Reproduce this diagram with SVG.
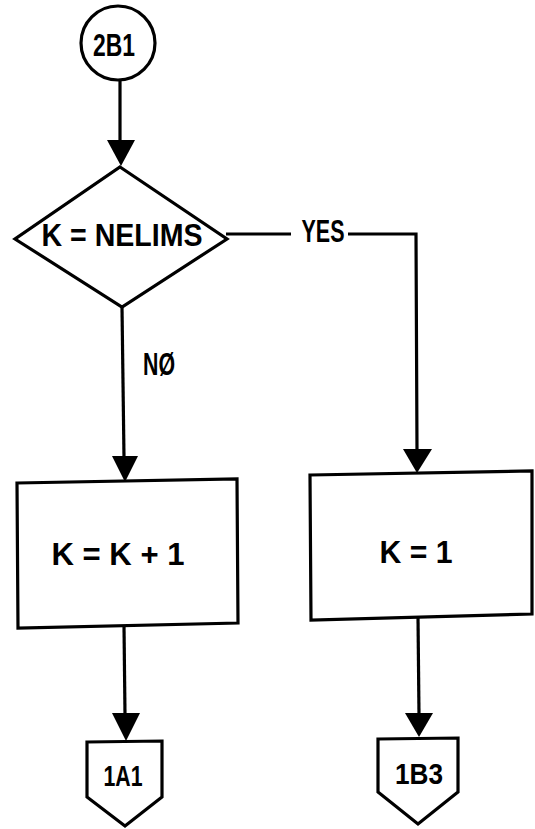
<svg xmlns="http://www.w3.org/2000/svg" width="535" height="829" viewBox="0 0 535 829">
  <style>
    .shape { fill: #fff; stroke: #000; stroke-width: 3.2; stroke-linejoin: miter; }
    .wire { fill: none; stroke: #000; stroke-width: 3.2; }
    .head { fill: #000; stroke: none; }
    .lbl { font-family: "Liberation Sans", "DejaVu Sans", sans-serif; font-size: 31px; font-weight: bold; fill: #000; text-anchor: middle; }
    .small { font-size: 29px; }
  </style>
  <rect width="535" height="829" fill="#fff"/>

  <!-- connectors -->
  <g id="connectors">
    <!-- entry circle to decision -->
    <line class="wire" x1="120" y1="80" x2="120" y2="142"/>
    <polygon class="head" points="107,140 135,140 121,166"/>
    <!-- NO branch -->
    <line class="wire" x1="122" y1="307" x2="124" y2="458"/>
    <polygon class="head" points="112,456 138,456 125,482"/>
    <text class="lbl" x="159" y="375" textLength="32" lengthAdjust="spacingAndGlyphs">NØ</text>
    <!-- YES branch -->
    <polyline class="wire" points="226,234 291,234"/>
    <polyline class="wire" points="348,234 416,234 417,451"/>
    <text class="lbl" x="323" y="242" textLength="43" lengthAdjust="spacingAndGlyphs">YES</text>
    <polygon class="head" points="403,449 432,449 417,473"/>
    <!-- left box to 1A1 -->
    <line class="wire" x1="124" y1="626" x2="125" y2="715"/>
    <polygon class="head" points="112,713 140,713 126,741"/>
    <!-- right box to 1B3 -->
    <line class="wire" x1="418" y1="617" x2="419" y2="715"/>
    <polygon class="head" points="405,713 433,713 419,737"/>
  </g>

  <!-- entry connector -->
  <g id="node-2B1">
    <circle class="shape" cx="118" cy="43" r="37"/>
    <text class="lbl" x="114" y="56" textLength="42" lengthAdjust="spacingAndGlyphs">2B1</text>
  </g>

  <!-- decision -->
  <g id="node-decision">
    <polygon class="shape" points="120,167 227,239 122,307 15,239"/>
    <text class="lbl" x="122" y="246" textLength="161" lengthAdjust="spacingAndGlyphs">K = NELIMS</text>
  </g>

  <!-- increment -->
  <g id="node-increment">
    <polygon class="shape" points="17,483 237,479 238,623 18,628"/>
    <text class="lbl" x="118" y="565" textLength="133" lengthAdjust="spacingAndGlyphs">K = K + 1</text>
  </g>

  <!-- reset -->
  <g id="node-reset">
    <polygon class="shape" points="310,475 532,471 532,614 311,620"/>
    <text class="lbl" x="416" y="563" textLength="73" lengthAdjust="spacingAndGlyphs">K = 1</text>
  </g>

  <!-- off-page connectors -->
  <g id="node-1A1">
    <polygon class="shape" points="87,742 162,741 162,797 125,826 87,797"/>
    <text class="lbl small" x="123" y="786" textLength="39" lengthAdjust="spacingAndGlyphs">1A1</text>
  </g>
  <g id="node-1B3">
    <polygon class="shape" points="378,739 458,738 458,792 418,824 378,792"/>
    <text class="lbl small" x="419" y="784" textLength="48" lengthAdjust="spacingAndGlyphs">1B3</text>
  </g>
</svg>
